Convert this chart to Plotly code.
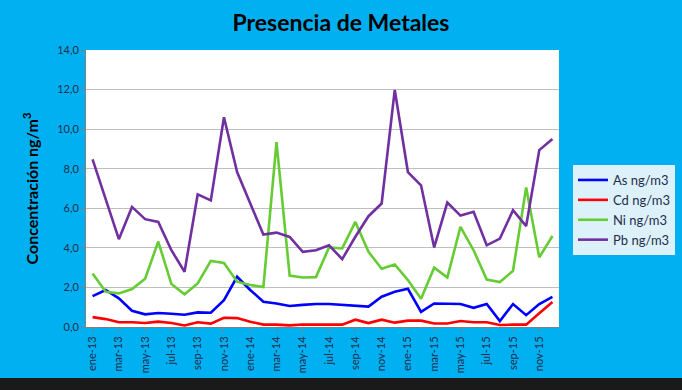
import plotly.graph_objects as go

months = [f"{m}-{y}" for y in ["13", "14", "15"]
          for m in ["ene", "feb", "mar", "abr", "may", "jun", "jul", "ago", "sep", "oct", "nov", "dic"]]

as_vals = [1.56, 1.87, 1.45, 0.82, 0.64, 0.71, 0.67, 0.62, 0.74, 0.72, 1.36, 2.54,
           1.87, 1.28, 1.19, 1.06, 1.12, 1.16, 1.16, 1.11, 1.06, 1.03, 1.53, 1.78,
           1.93, 0.76, 1.19, 1.16, 1.16, 0.97, 1.16, 0.30, 1.16, 0.60, 1.16, 1.52]
cd_vals = [0.50, 0.40, 0.24, 0.24, 0.20, 0.27, 0.20, 0.08, 0.24, 0.17, 0.47, 0.45,
           0.27, 0.12, 0.12, 0.08, 0.13, 0.12, 0.12, 0.12, 0.37, 0.20, 0.37, 0.22,
           0.32, 0.32, 0.18, 0.18, 0.30, 0.24, 0.24, 0.10, 0.12, 0.12, 0.69, 1.26]
ni_vals = [2.70, 1.78, 1.70, 1.92, 2.44, 4.32, 2.17, 1.65, 2.20, 3.34, 3.24, 2.29,
           2.12, 2.02, 9.34, 2.60, 2.50, 2.52, 4.02, 3.97, 5.31, 3.80, 2.94, 3.16,
           2.37, 1.43, 3.00, 2.50, 5.06, 3.88, 2.40, 2.27, 2.84, 7.05, 3.52, 4.60]
pb_vals = [8.47, 6.40, 4.44, 6.07, 5.45, 5.31, 3.88, 2.79, 6.70, 6.40, 10.60, 7.83,
           6.20, 4.67, 4.77, 4.55, 3.80, 3.88, 4.13, 3.43, 4.56, 5.60, 6.24, 11.98,
           7.83, 7.16, 4.02, 6.29, 5.63, 5.82, 4.13, 4.47, 5.90, 5.10, 8.94, 9.50]

series = [
    ("As ng/m3", as_vals, "#0000FF"),
    ("Cd ng/m3", cd_vals, "#FF0000"),
    ("Ni ng/m3", ni_vals, "#66CC33"),
    ("Pb ng/m3", pb_vals, "#7030A0"),
]

FONT = "Lato, 'Open Sans', sans-serif"
TXT = "#1F2D4D"

fig = go.Figure()
for name, vals, color in series:
    fig.add_trace(go.Scatter(x=months, y=vals, name=name, mode="lines",
                             line=dict(color=color, width=2.6)))

L, R, T, B = 86, 123, 50, 63
W, H = 682, 390
pw, ph = W - L - R, H - T - B

fig.update_layout(
    width=W, height=H,
    margin=dict(l=L, r=R, t=T, b=B, autoexpand=False),
    paper_bgcolor="#00B0F0",
    plot_bgcolor="white",
    separators=",.",
    font=dict(family=FONT, color=TXT, size=11),
    title=dict(text="<b>Presencia de Metales</b>", x=0.5, xanchor="center",
               xref="container",
               y=1 - 23 / H, yanchor="middle",
               font=dict(family=FONT, size=23, color="black")),
    showlegend=True,
    legend=dict(x=(573 - L) / pw, y=(H - B - 165) / ph, xanchor="left", yanchor="top",
                bgcolor="#DDF1FA", borderwidth=0,
                font=dict(family=FONT, size=13, color=TXT),
                itemwidth=30, tracegroupgap=3),
    xaxis=dict(type="category", tickmode="array", tickvals=months[::2],
               ticktext=months[::2], tickangle=-90, showgrid=False,
               ticks="outside", ticklen=4, tickcolor="#808080",
               tickfont=dict(size=11, color=TXT), automargin=False,
               showline=True, linecolor="#808080", linewidth=1, range=[-0.5, 35.5]),
    yaxis=dict(range=[0, 14], dtick=2, tickformat=".1f", showgrid=True,
               gridcolor="#BFBFBF", gridwidth=1, ticks="outside", ticklen=4,
               tickcolor="#808080", showline=True, linecolor="#808080",
               tickfont=dict(size=11, color=TXT), zeroline=False, automargin=False,
               title=dict(text="<b>Concentración ng/m<sup>3</sup></b>",
                          font=dict(family=FONT, size=16, color="black"), standoff=14)),
    shapes=[dict(type="rect", xref="paper", yref="paper",
                 x0=-L / pw, x1=(W - L) / pw,
                 y0=-(H - (H - B)) / ph - 0.01, y1=-(378 - (H - B)) / ph,
                 fillcolor="#1A1A1A", line=dict(width=0), layer="above")],
)

fig.write_html("out.html", config={"displayModeBar": False},
               post_script="document.body.style.margin='0';")
